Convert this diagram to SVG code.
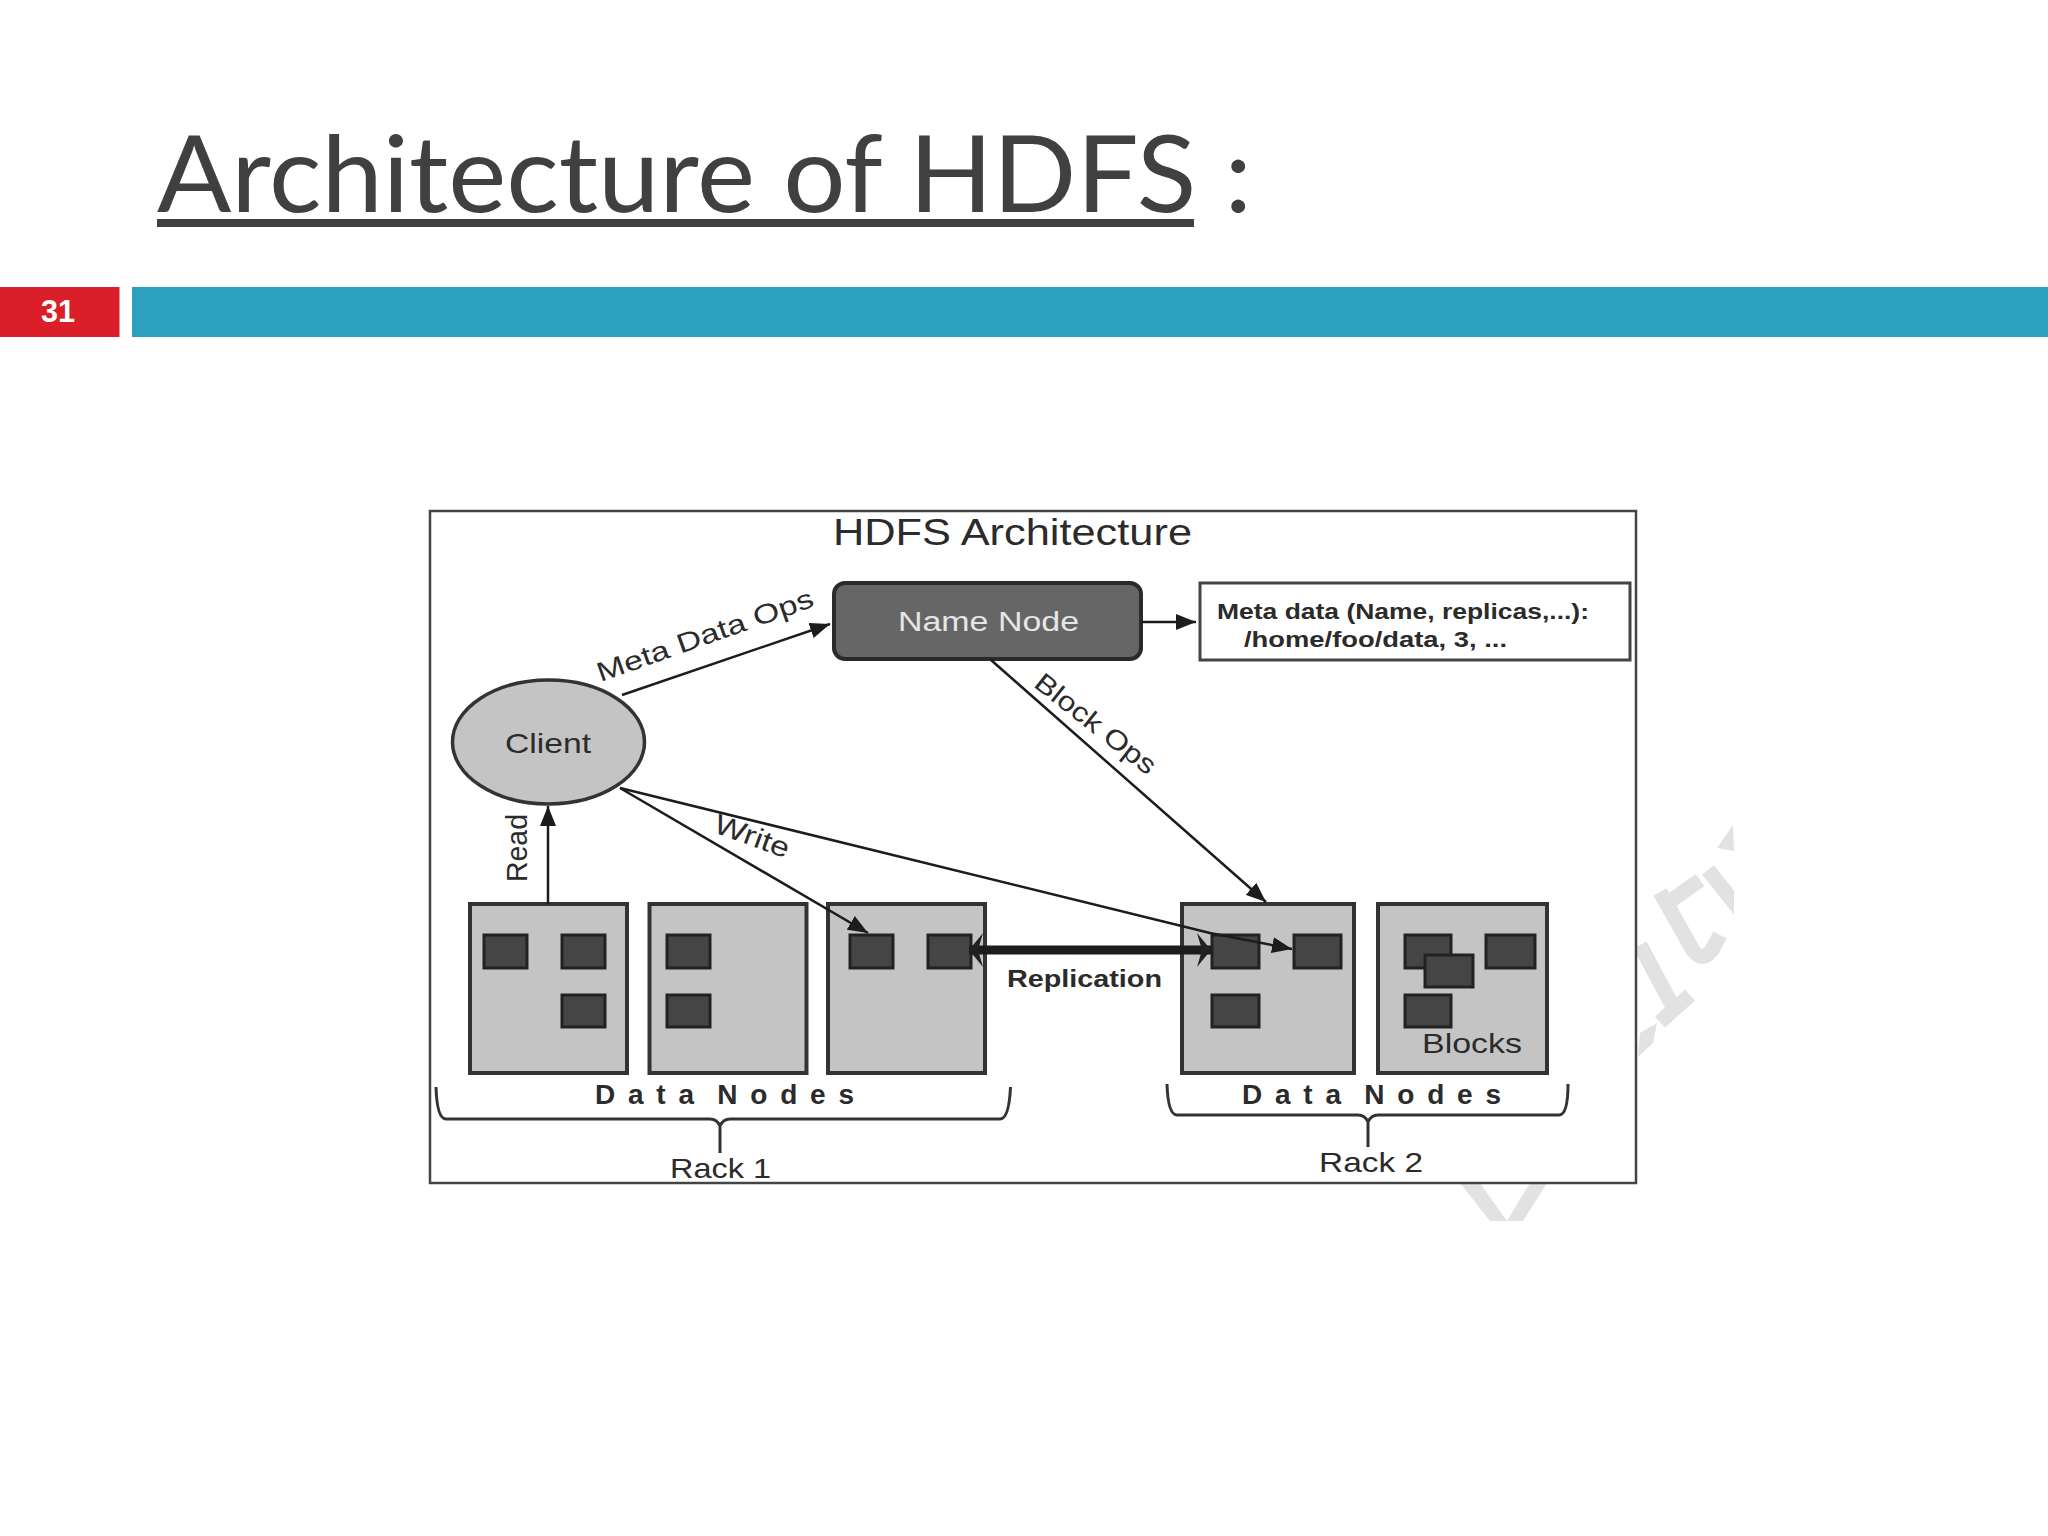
<svg xmlns="http://www.w3.org/2000/svg" width="2048" height="1536" viewBox="0 0 2048 1536">
<style>
text{font-family:"Liberation Sans",Arial,sans-serif;fill:#2b2b2b}
.n{fill:#c4c4c4;stroke:#333;stroke-width:4}
.b{fill:#454545;stroke:#222;stroke-width:3}
.c{fill:none;stroke:#1c1c1c;stroke-width:2.500}
.br{fill:none;stroke:#333;stroke-width:3}
.dn{font-weight:bold;font-size:28px;word-spacing:-10px}
.wf{fill:#e2e2e2}
.ws{fill:none;stroke:#e2e2e2;stroke-width:15}
</style>
<defs>
<marker id="ah" markerUnits="userSpaceOnUse" markerWidth="20" markerHeight="16" refX="20" refY="8" orient="auto"><path d="M0 0L20 8L0 16z" fill="#1c1c1c"/></marker>
<marker id="rs" markerUnits="userSpaceOnUse" markerWidth="14" markerHeight="34" refX="14" refY="17" orient="auto-start-reverse"><path d="M0 0L14 17L0 34L5 17z" fill="#222"/></marker>
<clipPath id="wmclip"><rect x="1400" y="800" width="334" height="421"/></clipPath>
</defs>
<rect width="2048" height="1536" fill="#fff"/>
<g id="watermark" clip-path="url(#wmclip)">
<path class="wf" d="M1733 825L1717 848L1734 851z"/>
<path class="ws" d="M1708 870L1740 910"/>
<path class="ws" d="M1660 892L1690 945Q1700 965 1712 950L1720 935"/>
<path class="ws" d="M1665 905L1700 880"/>
<path class="ws" d="M1640 945L1672 1005"/>
<path class="ws" d="M1660 1022L1690 995"/>
<path class="wf" d="M1640 1033L1657 1023L1653 1043L1638 1057z"/>
<path class="wf" d="M1460 1183L1490 1221H1507L1480 1183zM1530 1183H1547L1523 1221H1507z"/>
</g>
<g id="title">
<text x="157" y="212" font-size="106" textLength="1095" lengthAdjust="spacingAndGlyphs" style="font-family:'Lato','Open Sans',sans-serif;fill:#404040">Architecture of HDFS :</text>
<rect x="157" y="219" width="1037" height="8" fill="#404040"/>
</g>
<g id="slide-bar">
<rect x="0" y="287" width="119.500" height="50" fill="#da1f28"/>
<rect x="132" y="287" width="1916" height="50" fill="#2ca1bf"/>
<text x="58" y="322" font-size="32" font-weight="bold" text-anchor="middle" textLength="34" lengthAdjust="spacingAndGlyphs" style="fill:#fff">31</text>
</g>
<g id="frame">
<rect x="430" y="511" width="1206" height="672" fill="#fff" stroke="#444" stroke-width="2.500"/>
<text x="833" y="545" font-size="36" textLength="359" lengthAdjust="spacingAndGlyphs">HDFS Architecture</text>
</g>
<g id="name-node">
<rect x="834" y="583" width="307" height="76" rx="11" fill="#666" stroke="#2a2a2a" stroke-width="4"/>
<text x="898" y="631" font-size="27" textLength="181" lengthAdjust="spacingAndGlyphs" style="fill:#e6e6e6">Name Node</text>
</g>
<g id="meta-box">
<rect x="1200" y="583" width="430" height="77" fill="#fff" stroke="#444" stroke-width="3"/>
<text x="1217" y="619" font-size="22" font-weight="bold" textLength="372" lengthAdjust="spacingAndGlyphs">Meta data (Name, replicas,...):</text>
<text x="1244" y="647" font-size="22" font-weight="bold" textLength="263" lengthAdjust="spacingAndGlyphs">/home/foo/data,  3, ...</text>
</g>
<g id="client">
<ellipse cx="548.500" cy="742" rx="96" ry="62" class="n" style="stroke-width:3.500"/>
<text x="505" y="753" font-size="28" textLength="86" lengthAdjust="spacingAndGlyphs">Client</text>
</g>
<g id="rack-1-node-1">
<rect x="470" y="904" width="157" height="169" class="n"/>
<rect x="484" y="935" width="43" height="33" class="b"/>
<rect x="562" y="935" width="43" height="33" class="b"/>
<rect x="562" y="995" width="43" height="32" class="b"/>
</g>
<g id="rack-1-node-2">
<rect x="649.500" y="904" width="157" height="169" class="n"/>
<rect x="667" y="935" width="43" height="33" class="b"/>
<rect x="667" y="995" width="43" height="32" class="b"/>
</g>
<g id="rack-1-node-3">
<rect x="828" y="904" width="157" height="169" class="n"/>
<rect x="850" y="935" width="43" height="33" class="b"/>
<rect x="928" y="935" width="43" height="33" class="b"/>
</g>
<g id="rack-2-node-1">
<rect x="1182" y="904" width="172" height="169" class="n"/>
<rect x="1212" y="935" width="47" height="33" class="b"/>
<rect x="1294" y="935" width="47" height="33" class="b"/>
<rect x="1212" y="995" width="47" height="32" class="b"/>
</g>
<g id="rack-2-node-2">
<rect x="1378" y="904" width="169" height="169" class="n"/>
<rect x="1405" y="935" width="46" height="33" class="b"/>
<rect x="1486" y="935" width="49" height="33" class="b"/>
<rect x="1425" y="955" width="48" height="32" class="b"/>
<rect x="1405" y="995" width="46" height="32" class="b"/>
<text x="1422" y="1053" font-size="28" textLength="100" lengthAdjust="spacingAndGlyphs">Blocks</text>
</g>
<g id="connectors">
<path class="c" d="M622 695L830 624" marker-end="url(#ah)"/>
<path class="c" d="M1141 622H1196" marker-end="url(#ah)"/>
<path class="c" d="M991 660L1266 902" marker-end="url(#ah)"/>
<path class="c" d="M548 904V806" marker-end="url(#ah)"/>
<path class="c" d="M620 788L868 933" marker-end="url(#ah)"/>
<path class="c" d="M620 788L1210 933L1292 949" marker-end="url(#ah)"/>
<path d="M969 950H1211" fill="none" stroke="#1c1c1c" stroke-width="9" marker-start="url(#rs)" marker-end="url(#rs)"/>
</g>
<g id="connector-labels">
<text x="708" y="644" font-size="27" text-anchor="middle" textLength="228" lengthAdjust="spacingAndGlyphs" transform="rotate(-19.500 708 644)">Meta Data Ops</text>
<text x="1090" y="731" font-size="27" text-anchor="middle" textLength="146" lengthAdjust="spacingAndGlyphs" transform="rotate(38 1090 731)">Block Ops</text>
<text x="527" y="848" font-size="30" text-anchor="middle" textLength="68" lengthAdjust="spacingAndGlyphs" transform="rotate(-90 527 848)">Read</text>
<text x="749" y="845" font-size="28" text-anchor="middle" textLength="78" lengthAdjust="spacingAndGlyphs" transform="rotate(20 749 845)">Write</text>
<text x="1007" y="987" font-size="24" font-weight="bold" textLength="155" lengthAdjust="spacingAndGlyphs">Replication</text>
</g>
<g id="rack-1">
<path class="br" d="M436 1087Q437 1119 446 1119H710Q717 1119 720 1126Q723 1119 730 1119H1000Q1009 1119 1010.500 1087M720 1124V1153"/>
<text x="595" y="1104" class="dn" textLength="259" lengthAdjust="spacing">Data Nodes</text>
<text x="670" y="1178" font-size="28" textLength="101" lengthAdjust="spacingAndGlyphs">Rack 1</text>
</g>
<g id="rack-2">
<path class="br" d="M1167 1084Q1168 1115 1177 1115H1358Q1365 1115 1368 1122Q1371 1115 1378 1115H1559Q1568 1115 1568 1084M1368 1120V1147"/>
<text x="1242" y="1104" class="dn" textLength="259" lengthAdjust="spacing">Data Nodes</text>
<text x="1319" y="1172" font-size="28" textLength="104" lengthAdjust="spacingAndGlyphs">Rack 2</text>
</g>
</svg>
